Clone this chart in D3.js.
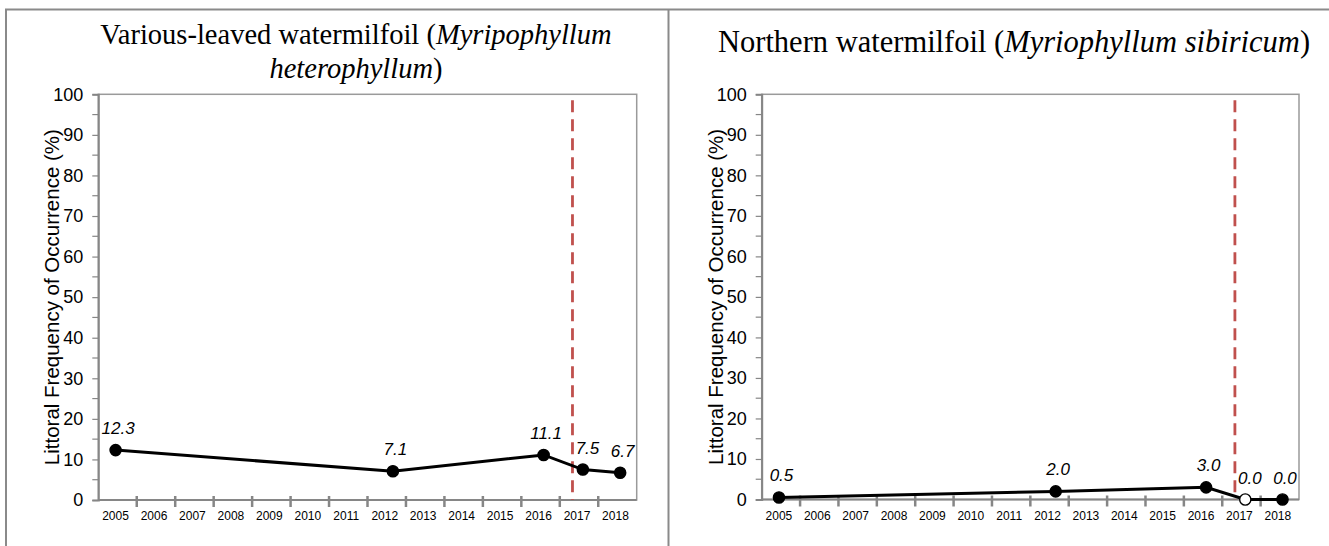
<!DOCTYPE html>
<html>
<head>
<meta charset="utf-8">
<script src="https://cdn.jsdelivr.net/npm/d3@7"></script>
<style>
  html, body { margin: 0; padding: 0; background: #fff; }
  svg { display: block; }
</style>
</head>
<body>
<svg id="chart" width="1329" height="546"></svg>
<script>
// Survey years shown along the category axis
const yearLabels = ["2005","2006","2007","2008","2009","2010","2011","2012","2013","2014","2015","2016","2017","2018"];
// Survey dates (decimal years) for each point
const surveyDates = [2005.45, 2012.66, 2016.58, 2017.6, 2018.57];
// Littoral frequency of occurrence (%)
const heterophyllumValues = [12.3, 7.1, 11.1, 7.5, 6.7];
const sibiricumValues = [0.5, 2.0, 3.0, 0.0, 0.0];
// Points drawn with a hollow marker
const sibiricumHollow = [false, false, false, true, false];
const heterophyllumHollow = [false, false, false, false, false];
// Treatment date marked by the dashed line
const treatmentDate = 2017.33;
const yTickValues = [0, 10, 20, 30, 40, 50, 60, 70, 80, 90, 100];
const yMinorValues = [5, 15, 25, 35, 45, 55, 65, 75, 85, 95];
const yAxisTitle = "Littoral Frequency of Occurrence (%)";

const svg = d3.select("#chart");
const AXIS = "#868686";
const SANS = "'Liberation Sans', Arial, sans-serif";

// Table-like frame around the two panels
svg.append("line").attr("x1", 5).attr("x2", 1329).attr("y1", 9.5).attr("y2", 9.5)
  .attr("stroke", "#8a8a8a").attr("stroke-width", 2);
svg.append("line").attr("x1", 6).attr("x2", 6).attr("y1", 9).attr("y2", 546)
  .attr("stroke", "#8a8a8a").attr("stroke-width", 2);
svg.append("line").attr("x1", 668.5).attr("x2", 668.5).attr("y1", 9).attr("y2", 546)
  .attr("stroke", "#8a8a8a").attr("stroke-width", 2);

function drawPanel(opts) {
  const { left, right, top, bottom, values, hollow, titleLines, titleX, titleY, titleLineH, titleSize } = opts;
  const g = svg.append("g");

  const x = d3.scaleLinear().domain([2005, 2019]).range([left, right]);
  const band = d3.scaleBand().domain(yearLabels).range([left, right]);
  const y = d3.scaleLinear().domain([0, 100]).range([bottom, top]);

  // Title (Times, species name in italics)
  titleLines.forEach((parts, i) => {
    const t = g.append("text")
      .attr("x", titleX).attr("y", titleY + i * titleLineH)
      .attr("text-anchor", "middle")
      .attr("font-family", "'Liberation Serif', 'Times New Roman', serif")
      .attr("font-size", titleSize).attr("fill", "#000");
    parts.forEach(p => {
      t.append("tspan").attr("font-style", p.i ? "italic" : "normal").text(p.t);
    });
  });

  // Plot area frame
  g.append("rect").attr("x", left).attr("y", top)
    .attr("width", right - left).attr("height", bottom - top)
    .attr("fill", "none").attr("stroke", "#9a9a9a").attr("stroke-width", 1.5);

  // Y axis
  const yAxis = d3.axisLeft(y).tickValues(yTickValues).tickSize(6).tickPadding(9);
  const ya = g.append("g").attr("transform", `translate(${left},0)`).call(yAxis);
  ya.select(".domain").attr("stroke", AXIS).attr("stroke-width", 2);
  ya.selectAll(".tick line").attr("stroke", AXIS).attr("stroke-width", 1.2);
  ya.selectAll(".tick text")
    .attr("font-family", SANS)
    .attr("font-size", 18).attr("fill", "#000");
  g.selectAll(".yminor").data(yMinorValues).join("line")
    .attr("x1", left - 6).attr("x2", left)
    .attr("y1", d => y(d)).attr("y2", d => y(d))
    .attr("stroke", AXIS).attr("stroke-width", 1.2);

  // Y axis title
  g.append("text")
    .attr("transform", `translate(${left - 39},${(top + bottom) / 2}) rotate(-90)`)
    .attr("text-anchor", "middle")
    .attr("font-family", SANS)
    .attr("font-size", 20.5).attr("fill", "#000")
    .text(yAxisTitle);

  // X axis: category bands with ticks between years
  g.append("line").attr("x1", left).attr("x2", right).attr("y1", bottom).attr("y2", bottom)
    .attr("stroke", AXIS).attr("stroke-width", 2);
  const boundaries = yearLabels.slice(1).map(yr => band(yr));
  g.selectAll(".xtick").data(boundaries).join("line")
    .attr("x1", d => d).attr("x2", d => d)
    .attr("y1", bottom - 4).attr("y2", bottom + 7)
    .attr("stroke", AXIS).attr("stroke-width", 2.5);
  g.selectAll(".xlabel").data(yearLabels).join("text")
    .attr("x", d => band(d) + band.bandwidth() / 2 - 2)
    .attr("y", bottom + 20)
    .attr("text-anchor", "middle")
    .attr("font-family", SANS)
    .attr("font-size", 12).attr("fill", "#000")
    .text(d => d);

  // Treatment date
  const tx = x(treatmentDate);
  g.append("line").attr("x1", tx).attr("x2", tx).attr("y1", top).attr("y2", bottom)
    .attr("stroke", "#c0504d").attr("stroke-width", 2.8)
    .attr("stroke-dasharray", "12,7").attr("stroke-dashoffset", 13);

  // Series line and markers
  const pts = surveyDates.map((d, i) => ({ date: d, v: values[i], hollow: hollow[i] }));
  g.append("path").datum(pts)
    .attr("d", d3.line().x(d => x(d.date)).y(d => y(d.v)))
    .attr("fill", "none").attr("stroke", "#000").attr("stroke-width", 3);
  g.selectAll(".pt").data(pts).join("circle")
    .attr("cx", d => x(d.date)).attr("cy", d => y(d.v)).attr("r", 5.6)
    .attr("fill", d => d.hollow ? "#fff" : "#000")
    .attr("stroke", "#000").attr("stroke-width", 1.4);

  // Value labels; labels next to the treatment line are kept to its right
  const labelHalf = 12;
  g.selectAll(".val").data(pts).join("text")
    .attr("x", d => {
      let lx = x(d.date) + 2.5;
      if (Math.abs(lx - tx) < labelHalf + 3) lx = tx + labelHalf + 3;
      return lx;
    })
    .attr("y", d => y(d.v) - 16)
    .attr("text-anchor", "middle")
    .attr("font-family", SANS)
    .attr("font-style", "italic")
    .attr("font-size", 17).attr("fill", "#000")
    .text(d => d3.format(".1f")(d.v));
}

drawPanel({
  left: 98.3, right: 636.7, top: 94.3, bottom: 500,
  values: heterophyllumValues, hollow: heterophyllumHollow,
  titleLines: [
    [{ t: "Various-leaved watermilfoil (" }, { t: "Myripophyllum", i: true }],
    [{ t: "heterophyllum", i: true }, { t: ")" }]
  ],
  titleX: 356, titleY: 44, titleLineH: 34, titleSize: 28.5
});

drawPanel({
  left: 761.7, right: 1299, top: 94.3, bottom: 499.5,
  values: sibiricumValues, hollow: sibiricumHollow,
  titleLines: [
    [{ t: "Northern watermilfoil (" }, { t: "Myriophyllum sibiricum", i: true }, { t: ")" }]
  ],
  titleX: 1014, titleY: 52, titleLineH: 34, titleSize: 30.5
});
</script>
</body>
</html>
